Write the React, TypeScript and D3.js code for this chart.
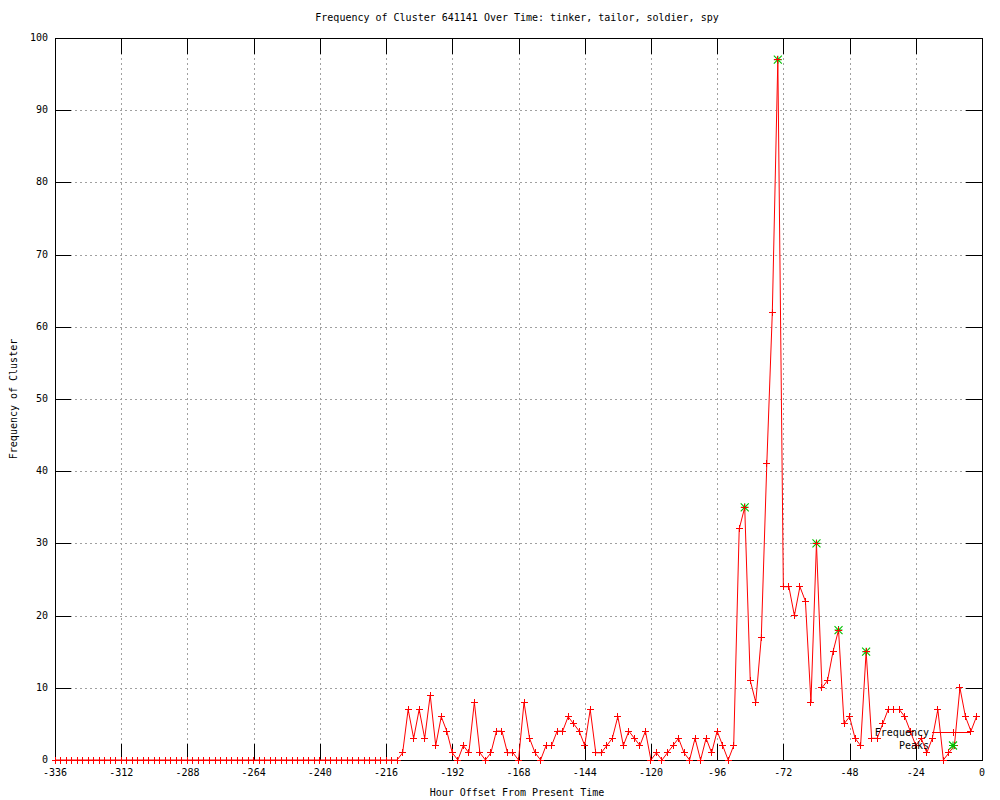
import React, { useEffect, useRef } from "react";
import * as d3 from "d3";

const title = "Frequency of Cluster 641141 Over Time: tinker, tailor, soldier, spy";
const xLabel = "Hour Offset From Present Time";
const yLabel = "Frequency of Cluster";

// hours -336 .. -2 step 2
const hours: number[] = d3.range(-336, 0, 2);

const frequency: number[] = [
  // -336 .. -212 (63 zeros)
  0, 0, 0, 0, 0, 0, 0, 0, 0, 0,
  0, 0, 0, 0, 0, 0, 0, 0, 0, 0,
  0, 0, 0, 0, 0, 0, 0, 0, 0, 0,
  0, 0, 0, 0, 0, 0, 0, 0, 0, 0,
  0, 0, 0, 0, 0, 0, 0, 0, 0, 0,
  0, 0, 0, 0, 0, 0, 0, 0, 0, 0,
  0, 0, 0,
  // -210 .. -2
  1, 7, 3, 7, 3, 9, 2, 6, 4, 1,
  0, 2, 1, 8, 1, 0, 1, 4, 4, 1,
  1, 0, 8, 3, 1, 0, 2, 2, 4, 4,
  6, 5, 4, 2, 7, 1, 1, 2, 3, 6,
  2, 4, 3, 2, 4, 0, 1, 0, 1, 2,
  3, 1, 0, 3, 0, 3, 1, 4, 2, 0,
  2, 32, 35, 11, 8, 17, 41, 62, 97, 24,
  24, 20, 24, 22, 8, 30, 10, 11, 15, 18,
  5, 6, 3, 2, 15, 3, 3, 5, 7, 7,
  7, 6, 4, 2, 3, 1, 3, 7, 0, 1,
  2, 10, 6, 4, 6,
];

const peakHours: number[] = [-86, -74, -60, -52, -42];
const peakValues: number[] = [35, 97, 30, 18, 15];

const xTicks: number[] = [-336, -312, -288, -264, -240, -216, -192, -168, -144, -120, -96, -72, -48, -24, 0];
const yTicks: number[] = [0, 10, 20, 30, 40, 50, 60, 70, 80, 90, 100];

const FONT = "'DejaVu Sans Mono', 'Liberation Mono', monospace";
const RED = "#ff0000";
const GREEN = "#00c000";

export default function App() {
  const ref = useRef<SVGSVGElement | null>(null);

  useEffect(() => {
    document.body.style.margin = "0";
    const svg = d3.select(ref.current);
    svg.selectAll("*").remove();

    const left = 55, right = 982, top = 38, bottom = 760;
    const x = d3.scaleLinear().domain([-336, 0]).range([left, right]);
    const y = d3.scaleLinear().domain([0, 100]).range([bottom, top]);

    svg.append("rect").attr("width", 1000).attr("height", 800).attr("fill", "#fff");

    // grid
    const g = svg.append("g").attr("shape-rendering", "crispEdges");
    xTicks.slice(1, -1).forEach((t) => {
      g.append("line")
        .attr("x1", Math.round(x(t)) + 0.5).attr("x2", Math.round(x(t)) + 0.5)
        .attr("y1", top).attr("y2", bottom)
        .attr("stroke", "#a0a0a0").attr("stroke-dasharray", "2,3");
    });
    yTicks.slice(1, -1).forEach((t) => {
      g.append("line")
        .attr("y1", Math.round(y(t)) + 0.5).attr("y2", Math.round(y(t)) + 0.5)
        .attr("x1", left).attr("x2", right)
        .attr("stroke", "#a0a0a0").attr("stroke-dasharray", "2,3");
    });

    // ticks (mirrored, inward)
    const tl = 16;
    xTicks.forEach((t) => {
      const px = Math.round(x(t)) + 0.5;
      g.append("line").attr("x1", px).attr("x2", px).attr("y1", bottom).attr("y2", bottom - tl).attr("stroke", "#000");
      g.append("line").attr("x1", px).attr("x2", px).attr("y1", top).attr("y2", top + tl).attr("stroke", "#000");
      svg.append("text")
        .attr("x", x(t)).attr("y", 773)
        .attr("text-anchor", "middle").attr("dominant-baseline", "middle")
        .attr("font-family", FONT).attr("font-size", 10).text(String(t));
    });
    yTicks.forEach((t) => {
      const py = Math.round(y(t)) + 0.5;
      g.append("line").attr("x1", left).attr("x2", left + tl).attr("y1", py).attr("y2", py).attr("stroke", "#000");
      g.append("line").attr("x1", right).attr("x2", right - tl).attr("y1", py).attr("y2", py).attr("stroke", "#000");
      svg.append("text")
        .attr("x", 48).attr("y", y(t))
        .attr("text-anchor", "end").attr("dominant-baseline", "middle")
        .attr("font-family", FONT).attr("font-size", 10).text(String(t));
    });

    // border
    g.append("rect")
      .attr("x", left + 0.5).attr("y", top + 0.5)
      .attr("width", right - left).attr("height", bottom - top)
      .attr("fill", "none").attr("stroke", "#000");

    // data line
    const pts: [number, number][] = hours.map((h, i) => [h, frequency[i]]);
    const line = d3.line<[number, number]>().x((d) => x(d[0])).y((d) => y(d[1]));
    svg.append("path").attr("d", line(pts) as string)
      .attr("fill", "none").attr("stroke", RED).attr("stroke-width", 1);

    const plus = (px: number, py: number, color: string) => {
      const s = 3.5;
      svg.append("path")
        .attr("d", `M${px - s},${py}H${px + s}M${px},${py - s}V${py + s}`)
        .attr("stroke", color).attr("fill", "none").attr("shape-rendering", "crispEdges");
    };
    const star = (px: number, py: number) => {
      const s = 4;
      svg.append("path")
        .attr("d", `M${px - s},${py - s}L${px + s},${py + s}M${px - s},${py + s}L${px + s},${py - s}M${px - s},${py}H${px + s}M${px},${py - s}V${py + s}`)
        .attr("stroke", GREEN).attr("fill", "none").attr("stroke-width", 1.1);
    };

    pts.forEach((d) => plus(x(d[0]), y(d[1]), RED));

    peakHours.forEach((h, i) => {
      star(x(h), y(peakValues[i]));
      plus(x(h), y(peakValues[i]), RED);
    });

    // legend
    svg.append("text").attr("x", 929).attr("y", 733)
      .attr("text-anchor", "end").attr("dominant-baseline", "middle")
      .attr("font-family", FONT).attr("font-size", 10).text("Frequency");
    svg.append("line").attr("x1", 932).attr("x2", 970).attr("y1", 732.5).attr("y2", 732.5)
      .attr("stroke", RED).attr("shape-rendering", "crispEdges");
    plus(953, 732.5, RED);
    svg.append("text").attr("x", 929).attr("y", 746)
      .attr("text-anchor", "end").attr("dominant-baseline", "middle")
      .attr("font-family", FONT).attr("font-size", 10).text("Peaks");
    star(953, 745.5);

    // titles
    svg.append("text").attr("x", 517).attr("y", 18)
      .attr("text-anchor", "middle").attr("dominant-baseline", "middle")
      .attr("font-family", FONT).attr("font-size", 10).text(title);
    svg.append("text").attr("x", 517).attr("y", 793)
      .attr("text-anchor", "middle").attr("dominant-baseline", "middle")
      .attr("font-family", FONT).attr("font-size", 10).text(xLabel);
    svg.append("text")
      .attr("transform", `translate(14,${(top + bottom) / 2}) rotate(-90)`)
      .attr("text-anchor", "middle").attr("dominant-baseline", "middle")
      .attr("font-family", FONT).attr("font-size", 10).text(yLabel);
  }, []);

  return (
    <svg ref={ref} width={1000} height={800} style={{ position: "absolute", left: 0, top: 0, display: "block" }} />
  );
}
